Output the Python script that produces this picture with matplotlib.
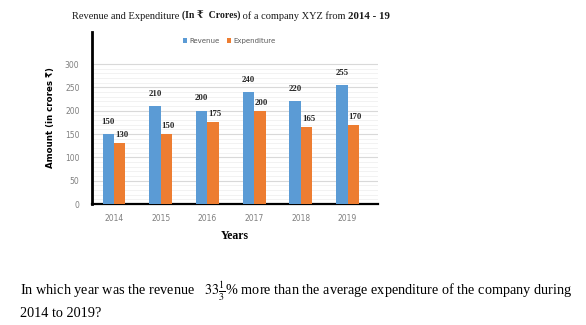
import numpy as np
import matplotlib
matplotlib.use("Agg")
from matplotlib import pyplot as plt

years = ["2014", "2015", "2016", "2017", "2018", "2019"]
revenue = [150, 210, 200, 240, 220, 255]
expenditure = [130, 150, 175, 200, 165, 170]

blue = "#5B9BD5"
orange = "#ED7D31"
serif = ["Liberation Serif", "DejaVu Serif"]

plt.rcParams["mathtext.fontset"] = "stix"

fig = plt.figure(figsize=(5.86, 3.25), dpi=100)
ax = fig.add_axes([0.157, 0.372, 0.488, 0.530])

x = np.arange(len(years))
w = 0.245
ax.bar(x - w / 2, revenue, w, color=blue, label="Revenue", zorder=3)
ax.bar(x + w / 2, expenditure, w, color=orange, label="Expenditure", zorder=3)

# value labels above each bar
lab = dict(fontsize=6.3, fontweight="bold", color="#262626", family=serif, ha="center")
for i in range(len(years)):
    ax.annotate(str(revenue[i]), (x[i] - w / 2, revenue[i]), xytext=(0, 6),
                textcoords="offset points", va="bottom", **lab)
    ax.annotate(str(expenditure[i]), (x[i] + w / 2 + 0.04, expenditure[i]), xytext=(0, 3),
                textcoords="offset points", va="bottom", **lab)

ax.set_xlim(-0.47, 5.65)
ax.set_ylim(0, 369)
ax.set_yticks(range(0, 301, 50))
ax.set_yticks(range(0, 301, 10), minor=True)
ax.set_xticks(x)
ax.set_xticklabels(years)
ax.tick_params(axis="both", length=0, labelsize=5.5, labelcolor="#7f7f7f")
ax.tick_params(axis="y", pad=9)
ax.tick_params(axis="x", pad=7)
ax.tick_params(which="minor", length=0)
ax.grid(axis="y", which="major", color="#d9d9d9", lw=0.8, zorder=0)
ax.grid(axis="y", which="minor", color="#f0f0f0", lw=0.6, zorder=0)

for s in ["top", "right"]:
    ax.spines[s].set_visible(False)
ax.spines["left"].set_linewidth(2)
ax.spines["bottom"].set_linewidth(1.6)

ax.set_ylabel("Amount (in crores \u20b9)", fontsize=6.2, fontweight="bold",
              family=["DejaVu Sans", "Noto Sans"], labelpad=7)
ax.set_xlabel("Years", fontsize=8.5, fontweight="bold", family="Liberation Serif", labelpad=5)

ax.legend(loc="upper center", bbox_to_anchor=(0.48, 1.0), ncol=2, frameon=False,
          fontsize=5, handlelength=0.6, handleheight=0.6, handletextpad=0.3,
          columnspacing=1.0, labelcolor="#595959")

# title pieces with mixed weights, placed one after the other
pieces = [("Revenue and Expenditure ", "normal", 7.5), ("(In \u20b9  Crores)", "bold", 7),
          (" of a company XYZ from ", "normal", 7.5), ("2014 - 19", "bold", 7.8)]
ty = 1 - 19 / 325
titles = [fig.text(72 / 586, ty, txt, fontsize=sz, fontweight=wt, family=serif,
                   color="#1a1a1a", va="baseline", ha="left")
          for txt, wt, sz in pieces]
fig.canvas.draw()
r = fig.canvas.get_renderer()
for a, b in zip(titles[:-1], titles[1:]):
    b.set_position((a.get_window_extent(r).x1 / fig.bbox.width, ty))
    fig.canvas.draw()

q = dict(fontsize=10.3, family=serif, color="black")
fig.text(20 / 586, 1 - 295 / 325,
         r"In which year was the revenue   $33\frac{1}{3}$% more than the average expenditure of the company during",
         **q)
fig.text(20 / 586, 1 - 317 / 325, "2014 to 2019?", **q)

fig.savefig("out.png", dpi=100)
